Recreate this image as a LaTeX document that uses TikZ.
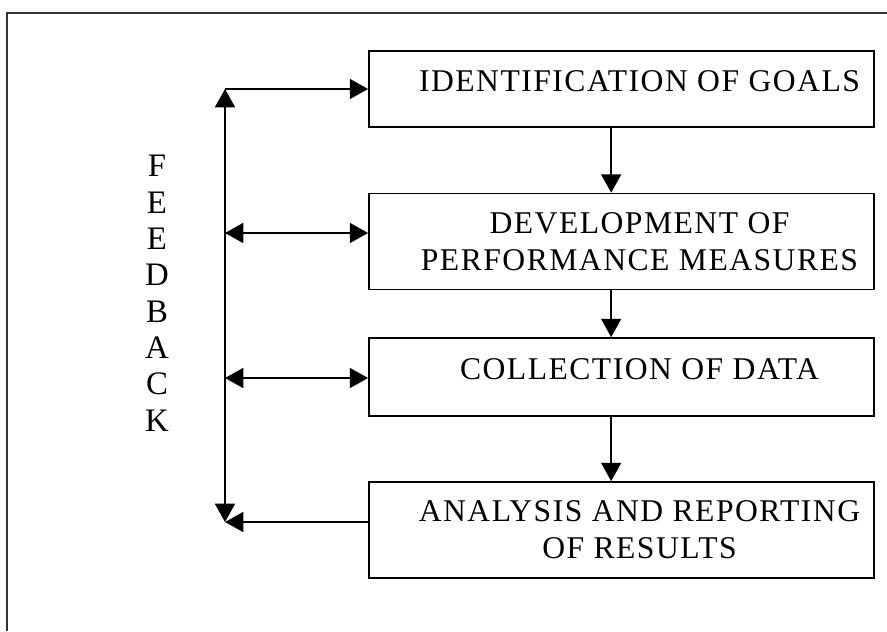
\documentclass[tikz,border=0pt]{standalone}
\usepackage{fontspec}
\setmainfont{Liberation Serif}
\newfontfamily\spacedfont[LetterSpace=4.7]{Liberation Serif}
\usepackage{tikz}
\usetikzlibrary{positioning,arrows.meta}

\begin{document}
\begin{tikzpicture}[
  box/.style={rectangle, draw=black, fill=white, line width=1.5pt,
              minimum width=15.15cm, minimum height=#1, inner sep=0pt},
  box/.default=2.88cm,
  boxtext/.style={font=\spacedfont\fontsize{27}{31.5}\selectfont, align=center,
                  inner sep=0pt, xshift=0.54cm},
  letters/.style={font=\fontsize{28}{31}\selectfont, align=center, inner sep=0pt},
  arr/.style={-{Triangle[length=0.55cm, width=0.6cm]}, line width=1.5pt},
  darr/.style={{Triangle[length=0.55cm, width=0.6cm]}-{Triangle[length=0.55cm, width=0.6cm]}, line width=1.5pt},
  frame/.style={line width=1.5pt, draw=black!80},
]
  \useasboundingbox (0,0) rectangle (26.61,-18.93);
  \draw[frame] (0.21,-18.93) |- (26.61,-0.39);

  % Process boxes
  \node[box=2.28cm, label={[boxtext, yshift=0.24cm]center:IDENTIFICATION OF GOALS}] (goals) at (18.645,-2.67) {};
  \node[box, label={[boxtext]center:DEVELOPMENT OF\\PERFORMANCE MEASURES}] (measures) at (18.645,-7.245) {};
  \node[box=2.34cm, label={[boxtext, yshift=0.24cm]center:COLLECTION OF DATA}] (data) at (18.645,-11.31) {};
  \node[box, label={[boxtext]center:ANALYSIS AND REPORTING\\OF RESULTS}] (results) at (18.645,-15.9) {};

  % Feedback line
  \node[letters] (feedback) at (4.71,-8.8) {F\\E\\E\\D\\B\\A\\C\\K};
  \coordinate (fbtop) at (6.75,-2.67);
  \coordinate (fbmeas) at (6.75,-6.99);
  \coordinate (fbdata) at (6.75,-11.34);
  \coordinate (fbbot) at (6.75,-15.66);

  % Main flow
  \draw[arr] ([xshift=-3.1mm]goals.south) -- ([xshift=-3.1mm]measures.north);
  \draw[arr] ([xshift=-3.1mm]measures.south) -- ([xshift=-3.1mm]data.north);
  \draw[arr] ([xshift=-3.1mm]data.south) -- ([xshift=-3.1mm]results.north);

  % Feedback flows
  \draw[darr] (fbbot) -- (fbtop);
  \draw[arr] (fbtop) -- (fbtop -| goals.west);
  \draw[darr] (fbmeas) -- (fbmeas -| measures.west);
  \draw[darr] (fbdata) -- (fbdata -| data.west);
  \draw[arr] (fbbot -| results.west) -- (fbbot);
\end{tikzpicture}
\end{document}
